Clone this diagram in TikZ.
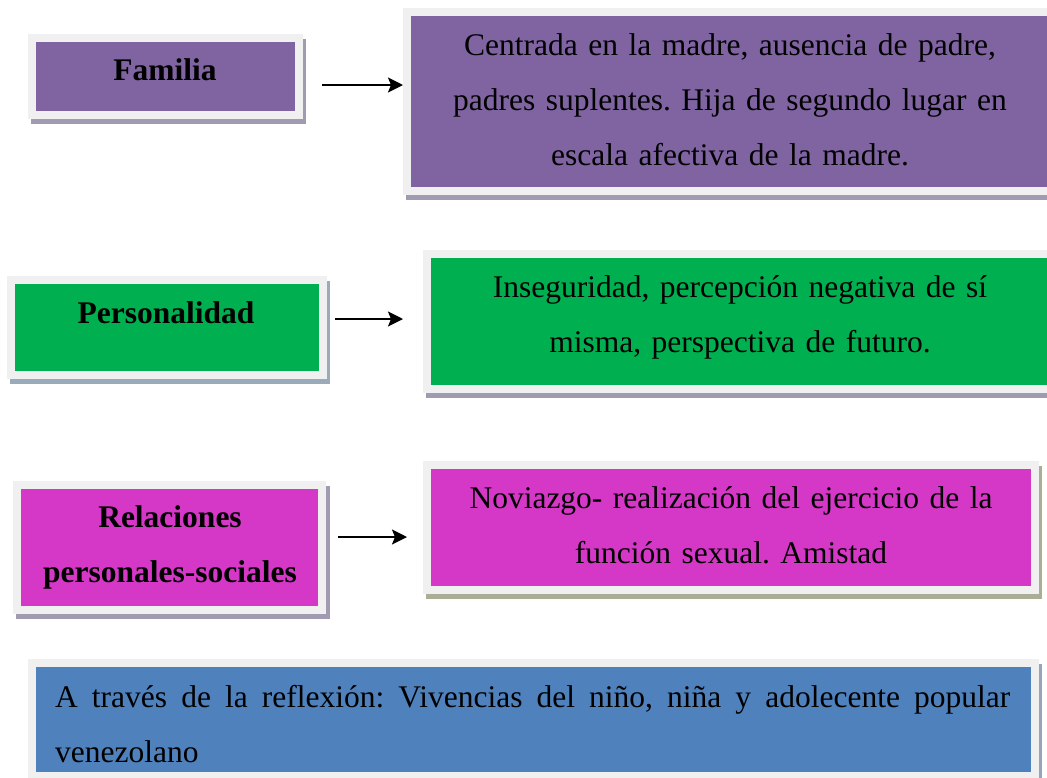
\documentclass[tikz,border=0pt]{standalone}
\usepackage{fontspec}
\setmainfont{Liberation Serif}
\usetikzlibrary{arrows.meta,backgrounds}
\frenchspacing
\definecolor{cpurple}{HTML}{8064A2}
\definecolor{cgreen}{HTML}{00B050}
\definecolor{cmagenta}{HTML}{D537C6}
\definecolor{cblue}{HTML}{4F81BD}
\definecolor{cframe}{HTML}{F0F0F0}
\definecolor{shpurple}{HTML}{A09BB0}
\definecolor{shblue}{HTML}{9AAAB8}
\definecolor{shgreen}{HTML}{A9AE94}
\definecolor{shbot}{HTML}{98A4BC}
\tikzset{
  panel/.style={rectangle, draw=cframe, line width=8pt, fill=#1},
  lbl/.style={inner sep=0pt, font=\fontsize{31.5}{55.3}\selectfont\bfseries, align=center, text width=310pt, anchor=base},
  desc/.style={inner sep=0pt, font=\fontsize{31.5}{55.3}\selectfont, align=center, text width=640pt, anchor=base},
  arr/.style={line width=2pt, -{Stealth[length=15pt,width=15pt,inset=3pt]}},
}
\newcommand{\shadowof}[3]{%
  \fill[#2] ([shift={(3pt,-5pt)}]#1.south west) rectangle ([shift={(#3,-5pt)}]#1.north east);}
\begin{document}
\begin{tikzpicture}[x=1pt,y=-1pt]
\useasboundingbox (0,0) rectangle (1047,777);
% boxes
\node[panel=cpurple, minimum width=267pt, minimum height=77pt] (famL) at (165.5,76.5) {};
\node[panel=cpurple, minimum width=646pt, minimum height=179pt] (famR) at (730,101.5) {};
\node[panel=cgreen, minimum width=312pt, minimum height=95pt] (perL) at (167,327.5) {};
\node[panel=cgreen, minimum width=626pt, minimum height=135pt] (perR) at (740,321.5) {};
\node[panel=cmagenta, minimum width=305pt, minimum height=125pt] (relL) at (169.5,547.5) {};
\node[panel=cmagenta, minimum width=608pt, minimum height=125pt] (relR) at (731,527.5) {};
\node[panel=cblue, minimum width=1003pt, minimum height=113pt] (bot) at (533.5,719.5) {};
\begin{pgfonlayer}{background}
\shadowof{famL}{shpurple}{3pt}
\shadowof{famR}{shpurple}{3pt}
\shadowof{perL}{shblue}{3pt}
\shadowof{perR}{shpurple}{3pt}
\shadowof{relL}{shpurple}{4pt}
\shadowof{relR}{shgreen}{3pt}
\shadowof{bot}{shbot}{3pt}
\end{pgfonlayer}
% texts
\node[lbl] (famLt) at (165,80) {Familia};
\node[desc] (famRt) at (730,55) {Centrada en la madre, ausencia de padre,\\ padres suplentes. Hija de segundo lugar en\\ escala afectiva de la madre.};
\node[lbl] (perLt) at (166,323) {Personalidad};
\node[desc] (perRt) at (740,297) {Inseguridad, percepción negativa de sí\\ misma, perspectiva de futuro.};
\node[lbl] (relLt) at (170,527) {Relaciones\\ personales-sociales};
\node[desc] (relRt) at (731,508) {Noviazgo- realización del ejercicio de la\\ función sexual. Amistad};
\node[inner sep=0pt, font=\fontsize{31.5}{55.3}\selectfont, align=left, text width=955pt, anchor=base west] (bott) at (55,707) {{\spaceskip=.25em plus 1fil\hbox to 955pt{A través de la reflexión: Vivencias del niño, niña y adolecente popular}}\\ venezolano};
% arrows
\coordinate (a1s) at (322,85);
\coordinate (a1e) at (403,85);
\coordinate (a2s) at (335,319);
\coordinate (a2e) at (403,319);
\coordinate (a3s) at (338,537);
\coordinate (a3e) at (407,537);
\draw[arr] (a1s) -- (a1e);
\draw[arr] (a2s) -- (a2e);
\draw[arr] (a3s) -- (a3e);
\end{tikzpicture}
\end{document}
